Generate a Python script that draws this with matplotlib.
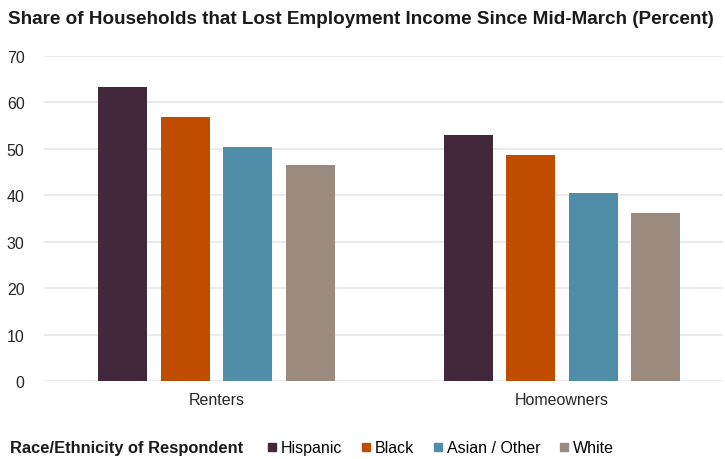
import numpy as np
import matplotlib
matplotlib.use("Agg")
import matplotlib.pyplot as plt
from matplotlib.lines import Line2D

plt.rcParams["font.family"] = ["Liberation Sans", "DejaVu Sans"]

groups = ["Renters", "Homeowners"]
races = ["Hispanic", "Black", "Asian / Other", "White"]
colors = ["#43283b", "#c04c00", "#508da8", "#9a8b7e"]
hispanic = [63.4, 52.9]
black = [56.9, 48.7]
asian = [50.5, 40.4]
white = [46.5, 36.1]
series = [hispanic, black, asian, white]

fig = plt.figure(figsize=(7.25, 4.6), dpi=100)
ax = fig.add_axes([44 / 725, 78 / 460, 679 / 725, 325 / 460])

x = np.arange(len(groups))
width = 0.142
step = 0.181
for i, vals in enumerate(series):
    ax.bar(x + (i - 1.5) * step, vals, width, color=colors[i], label=races[i], zorder=3)

ax.set_ylim(0, 70)
ax.set_yticks(range(0, 71, 10))
ax.set_xlim(-0.5, 1.467)
ax.set_xticks(x)
ax.set_xticklabels(groups)
ax.grid(axis="y", color="#ebebeb", linewidth=1.5, zorder=0)
for s in ax.spines.values():
    s.set_visible(False)
ax.tick_params(length=0, labelsize=11.5, colors="#262626")
ax.tick_params(axis="y", pad=14)
ax.tick_params(axis="x", pad=8)

fig.text(8 / 725, 1 - 20 / 460, "Share of Households that Lost Employment Income Since Mid-March (Percent)",
         fontsize=13.6, fontweight="bold", va="center", ha="left", color="#1a1a1a")

fig.text(10 / 725, 1 - 449 / 460, "Race/Ethnicity of Respondent", fontsize=11.9,
         fontweight="bold", va="center", ha="left", color="#1a1a1a")
handles = [Line2D([0], [0], marker="s", linestyle="none", markersize=6,
                  markerfacecolor=c, markeredgecolor=c) for c in colors]
fig.legend(handles, races, loc="center left", bbox_to_anchor=(264 / 725, 1 - 449 / 460),
           ncol=4, frameon=False, fontsize=11.5, handletextpad=0.05, columnspacing=1.0,
           handlelength=1.0, borderaxespad=0, borderpad=0)

fig.savefig("out.png", dpi=100)
